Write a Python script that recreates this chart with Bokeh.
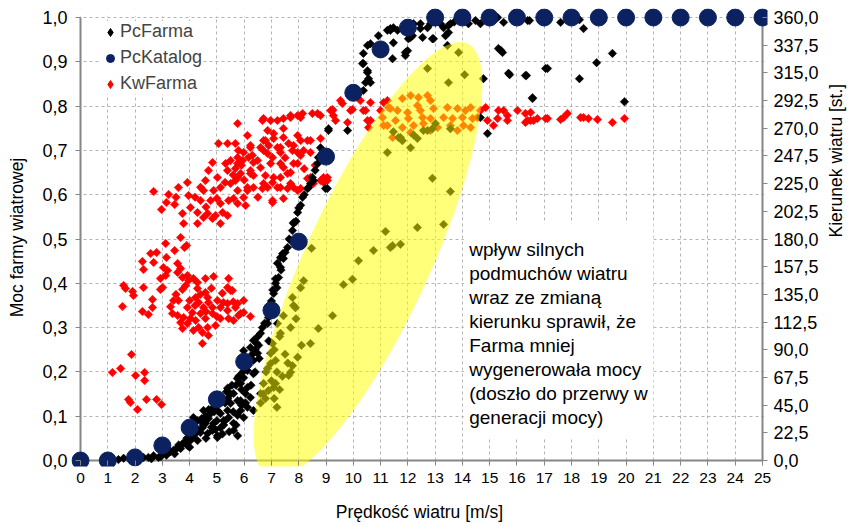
import numpy as np
from bokeh.plotting import figure
from bokeh.models import (Range1d, LinearAxis, Legend, LegendItem, BoxAnnotation,
                          Label, FixedTicker, CustomJSTickFormatter, ColumnDataSource)
from bokeh.embed import file_html
from bokeh.resources import INLINE

# ---------------- data ----------------
speed_ticks = [0, 1, 2, 3, 4, 5, 6, 7, 8, 9, 10, 11, 12, 13, 14, 15, 16, 17, 18, 19, 20, 21, 22, 23, 24, 25]
power_ticks = [0.0, 0.1, 0.2, 0.3, 0.4, 0.5, 0.6, 0.7, 0.8, 0.9, 1.0]
direction_ticks = [0.0, 22.5, 45.0, 67.5, 90.0, 112.5, 135.0, 157.5, 180.0, 202.5, 225.0,
                   247.5, 270.0, 292.5, 315.0, 337.5, 360.0]

# PcKatalog: catalogue power curve (speed m/s, relative power)
katalog_speed = [0, 1, 2, 3, 4, 5, 6, 7, 8, 9, 10, 11, 12, 13, 14, 15, 16, 17, 18, 19, 20, 21, 22, 23, 24, 25]
katalog_power = [0.0, 0.0, 0.007, 0.034, 0.074, 0.138, 0.223, 0.339, 0.494, 0.686, 0.83, 0.928, 0.977,
                 1.0, 1.0, 1.0, 1.0, 1.0, 1.0, 1.0, 1.0, 1.0, 1.0, 1.0, 1.0, 1.0]

# PcFarma: measured farm power (speed m/s, relative power)
pc_farma = [
    (1.39, .002), (1.58, .005), (1.83, .002), (2.13, .005), (2.31, .007), (2.49, .007), (2.68, .011),
    (2.86, .007), (3.04, .016), (3.23, .018), (3.41, .023), (3.56, .029), (3.67, .027), (3.74, .038),
    (3.92, .034), (4.03, .045), (4.11, .052), (4.22, .061), (4.29, .045), (4.40, .063), (4.47, .074),
    (4.40, .090), (4.58, .084), (4.69, .095), (4.66, .061), (4.84, .068), (4.88, .084), (5.02, .056),
    (5.13, .074), (5.24, .090), (5.13, .106), (5.39, .113), (5.43, .097), (5.61, .084), (5.76, .102),
    (5.87, .113), (5.98, .097), (5.50, .129), (5.76, .135), (5.61, .151), (5.39, .163), (5.87, .174),
    (6.12, .165), (6.05, .151), (6.23, .142), (5.98, .187), (6.12, .203), (6.34, .196), (6.12, .226),
    (6.34, .226), (5.98, .248), (6.23, .255), (6.34, .271), (6.53, .260), (6.49, .242), (6.60, .287),
    (6.67, .300), (6.86, .309), (6.12, .120), (5.87, .135), (4.88, .120), (5.13, .135), (5.02, .113),
    (4.51, .113), (4.29, .090), (4.77, .106), (4.14, .097), (5.61, .068), (5.02, .052), (5.76, .056),
    (4.6, .10), (4.9, .11), (5.3, .13), (5.0, .09), (4.5, .08), (5.6, .11), (5.2, .06), (4.8, .075),
    (5.5, .15), (5.7, .17), (5.9, .16), (6.0, .21), (6.2, .23), (4.3, .07), (3.9, .05), (4.1, .06),
    (5.8, .19), (5.4, .14), (6.4, .25), (6.5, .28), (5.3, .09), (3.3, .02), (3.6, .035),
    (4.2, .075), (4.45, .095), (4.7, .115), (4.95, .125), (5.15, .145), (5.35, .155), (5.55, .17),
    (5.75, .185), (5.95, .2), (6.15, .215), (6.3, .24), (6.45, .265), (4.6, .05), (4.95, .07),
    (5.25, .08), (5.45, .065), (5.7, .08), (5.9, .125), (6.05, .13), (6.25, .17), (6.4, .2),
    (6.55, .23), (3.8, .04), (4.0, .03), (3.45, .015), (2.6, .004), (2.95, .009), (3.15, .012),
    (6.89, .323), (6.97, .354), (7.08, .377), (7.15, .400), (7.26, .413), (7.33, .436), (7.44, .456),
    (7.41, .467), (7.59, .481), (7.70, .497), (7.77, .519), (7.81, .537), (7.96, .560), (8.07, .576),
    (8.14, .594), (8.32, .614), (8.43, .625), (8.54, .632), (8.69, .670), (8.72, .684), (8.80, .706),
    (8.98, .614), (9.09, .745), (9.79, .745), (7.22, .445), (7.15, .410), (7.05, .385), (7.33, .458),
    (8.50, .639), (8.36, .616), (9.05, .614), (7.81, .535),
    (7.5, .47), (7.65, .5), (7.9, .54), (8.0, .57), (8.2, .6), (8.6, .655), (8.85, .69), (7.0, .36),
    (7.2, .39), (6.75, .31), (6.95, .33), (7.35, .43),
    (10.37, .835), (10.45, .853), (10.52, .876), (10.37, .896), (10.52, .937), (10.63, .941),
    (10.92, .959), (11.25, .971), (11.36, .975), (11.47, .977), (11.62, .971), (12.02, .952),
    (12.17, .959), (12.21, .986), (12.46, .986), (12.54, .955), (12.83, .986), (12.94, .952),
    (13.20, .986), (13.31, .977), (13.38, .959), (13.49, .982), (13.45, .937), (11.99, .925),
    (11.91, .914), (11.47, .943), (11.44, .907), (10.56, .862), (10.63, .853), (10.34, .896),
    (14.48, .993), (14.66, .986), (15.32, .930), (15.47, .921), (15.69, .874), (16.39, .993),
    (15.51, .989), (12.46, .975), (12.72, .977), (13.01, .989), (10.37, .919), (10.52, .880),
    (11.36, .971), (11.91, .921), (11.99, .964), (12.10, .955), (12.90, .952), (13.49, .966),
    (13.56, .986), (14.22, .986), (15.29, 1.0), (16.31, .869), (16.57, .817), (17.05, .885),
    (9.09, .749), (14.92, .738),
    (16.46, .993), (17.60, .989), (18.29, .995), (18.44, .975), (15.40, .926), (15.73, .871),
    (16.35, .869), (17.12, .885), (18.29, .862), (18.92, .898), (19.50, .919), (16.57, .819),
    (19.94, .810), (14.0, .995), (15.0, .99), (16.0, .995), (17.0, .99), (13.7, .99),
    (11.25, .695), (12.90, .637), (13.56, .607), (11.18, .517), (12.35, .526), (13.31, .533),
    (11.44, .485), (11.73, .488), (11.36, .481), (10.74, .474), (10.19, .451), (8.47, .479),
    (9.97, .409), (9.64, .397), (9.24, .327), (8.72, .298), (8.43, .264), (8.10, .260), (8.18, .406),
    (8.07, .390), (7.77, .368), (7.81, .350), (7.88, .345), (7.44, .327), (7.33, .287), (7.22, .309),
    (7.04, .264), (6.97, .242), (7.96, .233), (7.77, .214), (7.70, .199), (7.63, .192), (7.15, .226),
    (6.97, .219), (6.86, .208), (7.15, .174), (7.08, .165), (6.89, .158), (6.71, .174), (6.78, .140),
    (6.60, .151), (6.34, .113), (13.86, .921), (12.72, .885), (14.08, .871), (13.49, .853),
    (14.77, .862), (11.73, .729), (12.35, .727), (12.72, .745), (12.90, .749), (11.66, .729),
    (11.80, .722), (12.10, .706), (12.57, .745), (13.01, .761), (13.56, .749), (14.66, .774),
    (12.21, .735), (11.47, .742),
    (7.0, .18), (7.2, .20), (7.3, .16), (7.4, .19), (6.8, .20), (6.7, .15), (7.5, .24), (7.6, .22),
    (7.1, .25), (7.3, .28), (6.9, .27), (7.7, .30), (7.9, .32), (6.6, .13), (7.1, .14), (7.2, .12),
]

# KwFarma: measured wind direction (speed m/s, direction deg)
kw_farma = [
    (1.87, 86.1), (1.17, 71.5), (1.47, 74.8), (2.02, 69.1), (2.35, 71.5), (2.35, 65.0), (1.76, 49.6),
    (1.83, 47.1), (2.42, 49.6), (2.79, 49.6), (2.97, 45.5), (2.09, 41.4),
    (1.58, 142.2), (1.65, 139.8), (1.91, 137.3), (1.94, 134.1), (1.54, 125.1), (2.31, 140.6),
    (2.64, 130.8), (2.27, 121.1), (2.49, 118.6), (2.64, 124.3), (2.93, 139.0), (3.01, 140.6),
    (2.93, 147.9), (3.12, 150.3), (3.19, 154.4), (3.04, 156.8), (2.57, 168.2), (2.79, 169.0),
    (2.27, 161.7), (2.31, 155.2), (2.68, 160.9), (3.15, 165.0), (3.12, 176.3), (3.45, 170.6),
    (3.67, 181.2), (3.81, 173.1), (3.89, 174.7), (3.56, 160.1), (3.67, 156.0), (3.56, 152.8),
    (3.74, 148.7), (3.92, 150.3), (3.96, 146.3), (4.14, 147.9), (4.29, 144.6), (4.58, 147.9),
    (4.88, 149.5), (5.43, 147.9), (4.29, 139.8), (3.74, 139.0), (4.58, 136.5), (4.66, 132.5),
    (4.22, 132.5), (3.59, 130.0), (3.41, 130.0), (3.92, 124.3), (4.33, 128.4), (4.69, 128.4),
    (4.84, 124.3), (5.02, 130.0), (5.24, 128.4), (5.39, 121.9), (5.68, 124.3), (5.98, 130.0),
    (5.87, 119.4), (6.23, 117.0), (5.39, 140.6), (5.57, 138.1), (5.13, 124.3), (4.51, 124.3),
    (3.37, 119.4), (3.56, 117.8), (3.78, 116.2), (3.67, 112.1), (3.74, 107.3), (3.92, 111.3),
    (4.03, 115.4), (4.22, 113.8), (4.33, 108.1), (4.14, 105.6), (4.47, 104.0), (4.66, 108.1),
    (4.58, 115.4), (4.95, 109.7), (4.69, 101.6), (4.47, 95.1), (5.13, 115.4), (5.43, 115.4),
    (5.61, 113.8), (5.79, 117.8), (4.40, 119.4), (4.84, 119.4), (5.39, 127.6), (5.76, 127.6),
    (5.98, 120.3), (5.50, 138.1),
    (3.3, 125.0), (3.5, 135.0), (4.0, 130.0), (4.4, 135.0), (4.8, 140.0), (5.2, 136.0), (4.1, 120.0),
    (4.6, 121.0), (5.0, 117.0), (3.85, 142.0), (4.2, 126.0), (5.6, 129.0),
    (2.68, 218.6), (2.97, 204.0), (3.23, 216.2), (3.15, 209.7), (3.45, 208.0), (3.59, 221.8),
    (3.92, 225.9), (3.74, 200.7), (3.78, 192.6), (3.96, 215.3), (4.03, 205.6), (4.29, 201.5),
    (4.40, 211.3), (4.51, 219.4), (4.58, 227.5), (4.69, 235.7), (4.84, 242.1), (5.02, 230.0),
    (5.13, 221.8), (4.88, 219.4), (4.77, 211.3), (4.66, 200.7), (4.95, 199.1), (5.21, 201.5),
    (5.39, 199.1), (5.13, 208.8), (5.43, 211.3), (5.39, 235.7), (5.32, 241.3), (5.50, 243.8),
    (5.68, 237.3), (5.76, 246.2), (5.94, 243.8), (5.98, 250.3), (6.23, 256.0), (6.16, 246.2),
    (5.87, 233.2), (6.23, 235.7), (6.34, 231.6), (6.49, 243.8), (6.60, 254.3), (6.78, 260.0),
    (6.86, 268.2), (7.08, 265.7), (7.22, 254.3), (7.04, 246.2), (6.86, 249.5), (7.33, 250.3),
    (7.44, 269.8), (7.63, 257.6), (7.77, 251.9), (7.96, 250.3), (8.07, 260.0), (8.32, 260.0),
    (8.43, 250.3), (7.81, 241.3), (7.70, 234.0), (7.33, 230.0), (7.04, 225.9), (6.86, 221.8),
    (6.67, 221.0), (6.34, 221.8), (6.12, 219.4), (5.98, 213.7), (5.76, 219.4), (5.76, 208.8),
    (6.05, 207.2), (5.61, 212.9), (5.68, 227.5), (5.50, 225.1), (5.76, 230.0), (5.06, 257.6),
    (5.39, 257.6), (5.68, 257.6), (5.76, 273.8), (6.12, 264.1), (6.67, 276.3), (6.97, 276.3),
    (7.22, 276.3), (7.70, 280.3), (7.96, 280.3), (8.14, 282.0), (8.50, 282.0), (8.69, 282.0),
    (8.80, 280.3), (9.24, 284.4), (7.04, 209.7), (7.44, 212.9), (7.33, 221.8), (7.59, 221.0),
    (7.81, 221.8), (8.07, 221.0), (8.54, 225.1), (8.80, 227.5), (8.91, 225.9), (9.05, 230.0),
    (8.43, 230.0), (7.33, 241.3), (6.78, 231.6), (4.84, 196.7), (4.51, 197.5), (4.29, 192.6),
    (5.13, 192.6),
    (4.2, 214.0), (4.6, 206.0), (5.0, 213.0), (5.3, 226.0), (5.6, 232.0), (5.9, 240.0), (6.3, 248.0),
    (6.6, 238.0), (6.9, 256.0), (7.5, 246.0), (8.2, 237.0), (8.6, 240.0), (6.0, 228.0), (6.5, 214.0),
    (4.4, 222.0), (3.5, 214.0),
    (6.71, 260.0), (7.08, 261.7), (7.44, 262.5), (7.96, 264.1), (8.43, 260.0), (8.80, 261.7),
    (5.79, 251.9), (6.23, 254.3), (6.71, 251.9), (7.33, 254.3), (7.81, 256.0), (8.18, 251.9),
    (5.76, 241.3), (6.34, 242.1), (6.97, 241.3), (7.44, 238.1), (7.96, 241.3), (8.07, 247.8),
    (6.23, 233.2), (7.08, 230.0), (7.59, 233.2), (6.71, 225.1), (7.22, 221.8), (7.70, 225.1),
    (7.96, 219.4), (6.12, 221.8), (8.32, 229.2), (8.91, 230.0), (9.05, 227.5), (7.04, 211.3),
    (9.24, 285.2), (9.60, 290.1), (9.97, 285.2), (9.79, 274.7), (10.45, 284.4), (10.63, 290.9),
    (10.52, 276.3), (10.56, 270.6), (11.00, 284.4), (11.25, 292.5), (11.07, 278.7), (11.29, 286.8),
    (11.11, 272.2), (9.27, 280.3), (8.07, 278.7), (7.70, 278.7), (7.44, 277.9), (6.71, 277.9),
    (9.53, 292.5), (9.90, 284.4), (10.26, 292.5), (10.37, 284.4), (10.63, 276.3), (11.11, 290.9),
    (9.17, 284.4), (9.35, 276.3),
    (11.80, 294.2), (12.10, 296.6), (12.39, 295.0), (12.72, 296.6), (12.83, 292.5), (12.35, 288.5),
    (11.62, 284.4), (11.99, 282.8), (12.46, 284.4), (12.94, 286.0), (13.45, 286.8), (13.82, 286.0),
    (14.11, 284.4), (14.30, 286.8), (11.55, 276.3), (12.02, 277.9), (12.54, 278.7), (12.83, 277.9),
    (13.31, 278.7), (13.64, 277.9), (14.00, 278.7), (14.37, 277.9), (14.55, 278.7), (11.80, 270.6),
    (12.21, 272.2), (12.57, 273.8), (13.09, 270.6), (13.56, 272.2), (14.04, 272.2), (14.30, 270.6),
    (12.10, 266.5), (12.83, 268.2), (13.82, 268.2), (11.36, 286.0), (11.25, 272.2), (11.44, 262.5),
    (14.66, 284.4), (14.92, 276.3), (15.29, 277.9), (15.51, 284.4), (15.65, 276.3), (16.02, 284.4),
    (16.31, 282.0), (15.14, 272.2), (14.85, 286.8), (15.32, 284.4), (15.65, 280.3), (16.39, 276.3),
    (16.75, 277.9), (17.05, 277.9), (16.50, 282.8), (16.50, 276.3), (16.31, 274.7), (16.61, 276.3),
    (17.12, 277.9), (17.60, 277.1), (17.71, 278.7), (17.85, 282.0), (18.33, 278.7), (18.44, 278.7),
    (18.62, 277.9), (18.95, 277.1), (19.50, 274.7), (19.94, 277.9),
]

note_lines = ["wpływ silnych", "podmuchów wiatru", "wraz ze zmianą", "kierunku sprawił, że",
              "Farma mniej", "wygenerowała mocy", "(doszło do przerwy w", "generacji  mocy)"]

FONT = "Liberation Sans"
NAVY = "#0b2160"
AXIS_GRAY = "#868686"

# ---------------- layout ----------------
PLOT_W, PLOT_H = 682, 443                 # pixels covering speed 0..25 / power 0..1
PX_X, PX_Y = PLOT_W / 25.0, PLOT_H / 1.0
PAD_L, PAD_R, PAD_T, PAD_B = 9, 5, 9, 6   # extra frame room so edge markers are not cut
TICK = 5
DIR_PER_POW = 360.0

p = figure(frame_width=PLOT_W + PAD_L + PAD_R, frame_height=PLOT_H + PAD_T + PAD_B,
           min_border_left=80 - PAD_L, min_border_right=850 - (762 + PAD_R),
           min_border_top=17 - PAD_T, min_border_bottom=524 - (460 + PAD_B),
           x_range=Range1d(-PAD_L / PX_X, 25 + PAD_R / PX_X),
           y_range=Range1d(-PAD_B / PX_Y, 1 + PAD_T / PX_Y),
           output_backend="svg", toolbar_location=None, background_fill_color="white")
p.outline_line_color = None
p.extra_y_ranges = {"dir": Range1d(-PAD_B / PX_Y * DIR_PER_POW, (1 + PAD_T / PX_Y) * DIR_PER_POW)}

comma1 = CustomJSTickFormatter(code="return tick.toFixed(1).replace('.', ',');")
comma0 = CustomJSTickFormatter(code="return tick.toFixed(0);")

def style_axis(ax, pad):
    ax.axis_line_color = None              # drawn separately at the data edge
    ax.major_tick_line_color = AXIS_GRAY
    ax.major_tick_line_width = 1
    ax.major_tick_in = pad                 # ticks start at the data edge ...
    ax.major_tick_out = TICK - pad         # ... and stick out TICK px beyond it
    ax.minor_tick_line_color = None
    ax.major_label_text_font = FONT
    ax.major_label_text_font_size = "18px"
    ax.major_label_text_color = "black"
    ax.axis_label_text_font = FONT
    ax.axis_label_text_font_size = "17.5px"
    ax.axis_label_text_font_style = "normal"
    ax.axis_label_text_color = "black"

xa = p.xaxis[0]
xa.ticker = FixedTicker(ticks=speed_ticks)
xa.formatter = comma0
xa.axis_label = "Prędkość wiatru [m/s]"
style_axis(xa, PAD_B)
xa.major_label_text_font_size = "15.5px"
xa.major_label_standoff = 6
xa.axis_label_standoff = 16

ya = p.yaxis[0]
ya.ticker = FixedTicker(ticks=power_ticks)
ya.formatter = comma1
ya.axis_label = "Moc farmy wiatrowej"
style_axis(ya, PAD_L)
ya.major_label_standoff = 4
ya.axis_label_standoff = 12

ra = LinearAxis(y_range_name="dir", ticker=FixedTicker(ticks=direction_ticks), formatter=comma1)
style_axis(ra, PAD_R)
ra.major_label_standoff = 6
p.add_layout(ra, "right")

# right-axis title on its own tick-less axis; its bounds put the (left-anchored,
# bottom-to-top) title so that it sits centred along the right axis
rt = LinearAxis(ticker=FixedTicker(ticks=[]), axis_label="Kierunek wiatru [st.]",
                bounds=(0, 0.655))
style_axis(rt, 0)
rt.major_tick_line_color = None
rt.major_tick_out = 0
rt.major_label_standoff = 0
rt.axis_label_standoff = 14
try:
    rt.axis_label_orientation = np.pi / 2
except Exception:
    rt.bounds = (0, 1)
p.add_layout(rt, "right")

for g in (p.xgrid[0], p.ygrid[0]):
    g.grid_line_color = "#b4b4b4"
    g.grid_line_dash = "3 3"
    g.grid_line_width = 1
p.xgrid[0].ticker = FixedTicker(ticks=speed_ticks)
p.ygrid[0].ticker = FixedTicker(ticks=power_ticks)

# white strips hide the grid inside the extra frame room
for kw in (dict(bottom=1 + 1.5 / PX_Y), dict(top=-1.5 / PX_Y),
           dict(right=-1.5 / PX_X), dict(left=25 + 1.5 / PX_X)):
    p.add_layout(BoxAnnotation(fill_color="white", fill_alpha=1.0, line_color=None,
                               level="underlay", **kw))

# axis lines along the data edges (2 px wide)
hx, hy = 1.0 / PX_X, 1.0 / PX_Y
for kw in (dict(left=-hx, right=hx, bottom=0, top=1),
           dict(left=25 - hx, right=25 + hx, bottom=0, top=1),
           dict(left=0, right=25, bottom=-hy, top=hy)):
    p.add_layout(BoxAnnotation(fill_color=AXIS_GRAY, fill_alpha=1.0, line_color=None,
                               level="underlay", **kw))

# ---------------- series ----------------
pf_x = [a for a, b in pc_farma]
pf_y = [b for a, b in pc_farma]
kw_x = [a for a, b in kw_farma]
kw_y = [b for a, b in kw_farma]

p.scatter(kw_x, kw_y, y_range_name="dir", marker="square", size=6, angle=np.pi / 4,
          fill_color="#ff0000", line_color="#ff0000", line_width=0.5)
p.scatter(pf_x, pf_y, marker="square", size=6, angle=np.pi / 4,
          fill_color="black", line_color="black", line_width=0.5)

# highlighted region: semi-transparent rotated ellipse (semi-axes in screen px)
ell_cx, ell_cy, ell_a, ell_b, ell_th = 10.54, 0.453, 238.0, 62.0, np.radians(65.3)
t = np.linspace(0, 2 * np.pi, 160)
ex = ell_cx + (ell_a * np.cos(t) * np.cos(ell_th) - ell_b * np.sin(t) * np.sin(ell_th)) / PX_X
ey = ell_cy + (ell_a * np.cos(t) * np.sin(ell_th) + ell_b * np.sin(t) * np.cos(ell_th)) / PX_Y
p.patch(ex, ey, fill_color="#ffff00", fill_alpha=0.52, line_color=None)

p.scatter(katalog_speed, katalog_power, marker="circle", size=17,
          fill_color=NAVY, line_color=NAVY)

# note box
p.add_layout(BoxAnnotation(left=14.05, right=21.0, bottom=0.05, top=0.535,
                           fill_color="white", fill_alpha=1.0, line_color=None))
y0 = 0.476
dy = 24 / PX_Y
for i, tx in enumerate(note_lines):
    p.add_layout(Label(x=14.25, y=y0 - i * dy, text=tx, text_font=FONT, text_font_size="19px",
                       text_baseline="middle", text_align="left", text_color="black"))

# legend glyphs (diamonds / circle); NaN rows are never drawn in the plot
nan_src = lambda: ColumnDataSource(dict(x=np.array([np.nan]), y=np.array([np.nan])))
lg_pf = p.scatter("x", "y", source=nan_src(), marker="diamond", size=10,
                  fill_color="black", line_color="black")
lg_kat = p.scatter("x", "y", source=nan_src(), marker="circle", size=15,
                   fill_color=NAVY, line_color=NAVY)
lg_kw = p.scatter("x", "y", source=nan_src(), marker="diamond", size=10,
                  fill_color="#ff0000", line_color="#ff0000")

legend = Legend(items=[LegendItem(label="PcFarma", renderers=[lg_pf]),
                       LegendItem(label="PcKatalog", renderers=[lg_kat]),
                       LegendItem(label="KwFarma", renderers=[lg_kw])],
                location=(100 - (80 - PAD_L), (460 + PAD_B) - 94), orientation="vertical",
                glyph_width=20, glyph_height=20, label_height=20, label_standoff=0,
                spacing=5, padding=3, margin=0,
                label_text_font=FONT, label_text_font_size="18px",
                background_fill_color="white", background_fill_alpha=1.0,
                border_line_color=None)
p.add_layout(legend)

open("out.html", "w").write(file_html(p, INLINE))
